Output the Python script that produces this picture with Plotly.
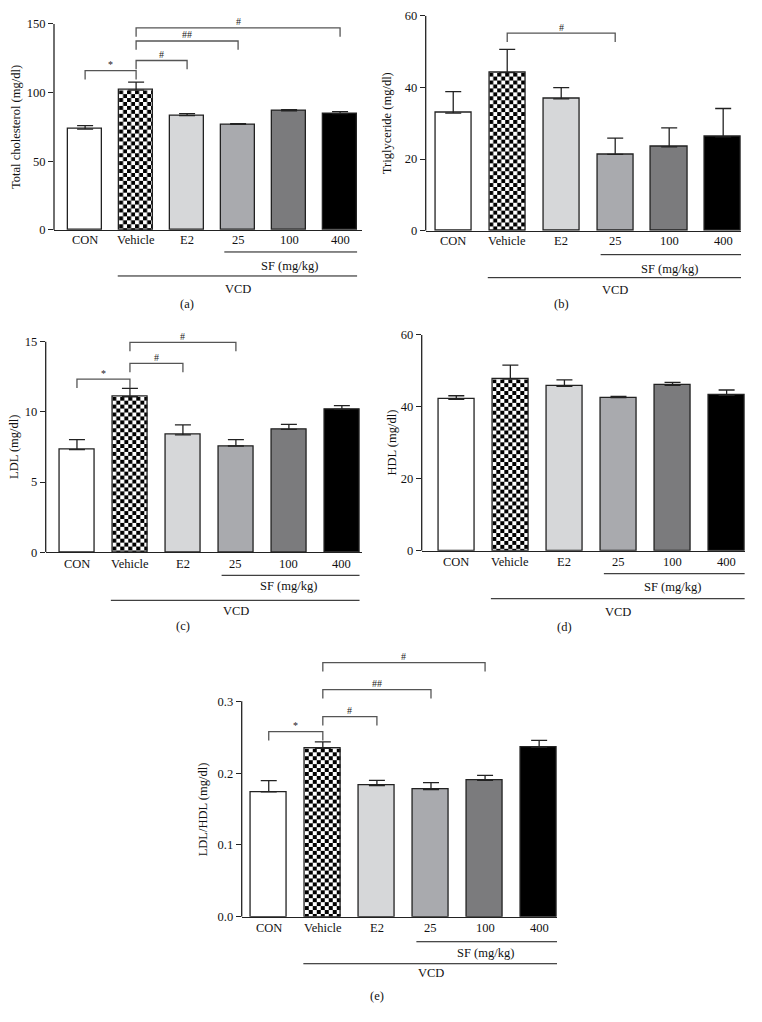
import base64
import plotly.graph_objects as go

# the page body keeps its 8px margin, so the figure is sized to fit inside it
OFF = 8
FIG_W, FIG_H = 762 - 2 * OFF, 1022 - 2 * OFF
# vertical correction measured on the photographed page
V_SHIFT, V_SCALE = 7.15, 0.986

groups = ["CON", "Vehicle", "E2", "25", "100", "400"]
bar_colors = ["#ffffff", "rgba(0,0,0,0)", "#d6d7d9", "#a9aaae", "#7b7b7d", "#000000"]

# (a) total cholesterol
tc_mean = [73.5, 101.8, 83.3, 76.9, 86.7, 84.7]
tc_sem = [2.5, 5.8, 1.4, 0.5, 1.0, 1.5]
tc_sig = [(0, 1, 116, "*"), (1, 2, 123.4, "#"), (1, 3, 137.6, "##"), (1, 5, 147.2, "#")]

# (b) triglyceride
tg_mean = [32.8, 44.1, 36.8, 21.3, 23.4, 26.2]
tg_sem = [6.0, 6.5, 3.1, 4.5, 5.3, 7.9]
tg_sig = [(1, 3, 55.1, "#")]

# (c) LDL
ldl_mean = [7.31, 11.08, 8.36, 7.57, 8.76, 10.18]
ldl_sem = [0.71, 0.6, 0.71, 0.45, 0.35, 0.26]
ldl_sig = [(0, 1, 12.34, "*"), (1, 2, 13.46, "#"), (1, 3, 14.95, "#")]

# (d) HDL
hdl_mean = [42.1, 47.7, 45.7, 42.6, 46.0, 43.2]
hdl_sem = [1.0, 3.9, 1.8, 0.3, 0.8, 1.5]
hdl_sig = []

# (e) LDL/HDL
ratio_mean = [0.174, 0.2345, 0.1825, 0.177, 0.19, 0.236]
ratio_sem = [0.0155, 0.009, 0.0075, 0.0097, 0.007, 0.0097]
ratio_sig = [(0, 1, 0.2578, "*"), (1, 2, 0.2787, "#"), (1, 3, 0.3163, "##"), (1, 4, 0.3539, "#")]

# pixel layout of each panel: axis left/right, y of zero, y of top tick
panels = [
    dict(mean=tc_mean, sem=tc_sem, sig=tc_sig, title="Total cholesterol (mg/dl)", letter="(a)",
         left=54, right=362, xr=[-0.61, 5.43], y0=230, ytop=24, tmax=150, dtick=50, ymax=156, title_x=16,
         below=[10, 22, 36, 46, 59, 74]),
    dict(mean=tg_mean, sem=tg_sem, sig=tg_sig, title="Triglyceride (mg/dl)", letter="(b)",
         left=425.7, right=741, xr=[-0.51, 5.33], y0=230.7, ytop=15.7, tmax=60, dtick=20, ymax=60, title_x=387,
         below=[10, 24, 38, 47, 59, 73]),
    dict(mean=ldl_mean, sem=ldl_sem, sig=ldl_sig, title="LDL (mg/dl)", letter="(c)",
         left=45.7, right=362, xr=[-0.59, 5.38], y0=552.3, ytop=341.7, tmax=15, dtick=5, ymax=15.3, title_x=14,
         below=[12, 23, 34, 48, 59, 74]),
    dict(mean=hdl_mean, sem=hdl_sem, sig=hdl_sig, title="HDL (mg/dl)", letter="(d)",
         left=421.7, right=745, xr=[-0.64, 5.34], y0=550.7, ytop=335, tmax=60, dtick=20, ymax=60, title_x=391.7,
         below=[11, 23, 36, 48, 61, 76]),
    dict(mean=ratio_mean, sem=ratio_sem, sig=ratio_sig, title="LDL/HDL (mg/dl)", letter="(e)",
         left=241.7, right=557, xr=[-0.5, 5.33], y0=916.7, ytop=701.3, tmax=0.3, dtick=0.1, ymax=0.36, title_x=203.3,
         below=[11, 25, 36, 47, 56, 79], fmt=".1f"),
]

BW = 0.667
INK = "#222222"
TXT = "#111111"
FONT = "Liberation Serif"
FS = 12.5


def px(pix):
    return (pix - OFF) / FIG_W


def page_y(pix):
    return (pix - V_SHIFT) / V_SCALE


def py(pix):
    return 1 - (page_y(pix) - OFF) / FIG_H


def checker_uri(w, h, sq=4):
    svg = (
        f"<svg xmlns='http://www.w3.org/2000/svg' width='{w:.1f}' height='{h:.1f}' "
        f"viewBox='0 0 {w:.1f} {h:.1f}' preserveAspectRatio='none'>"
        f"<defs><pattern id='c' width='{2*sq}' height='{2*sq}' patternUnits='userSpaceOnUse'>"
        f"<rect width='{2*sq}' height='{2*sq}' fill='white'/>"
        f"<rect width='{sq}' height='{sq}' fill='black'/>"
        f"<rect x='{sq}' y='{sq}' width='{sq}' height='{sq}' fill='black'/>"
        f"</pattern></defs><rect width='{w:.1f}' height='{h:.1f}' fill='url(#c)'/></svg>"
    )
    return "data:image/svg+xml;base64," + base64.b64encode(svg.encode()).decode()


def text(x, y, s, xref, yref, size=FS, color=TXT, **kw):
    return dict(x=x, y=y, xref=xref, yref=yref, text=s, showarrow=False,
                xanchor="center", yanchor=kw.pop("yanchor", "middle"),
                font=dict(family=FONT, size=size, color=color), **kw)


fig = go.Figure()
shapes, annotations, images = [], [], []

for k, p in enumerate(panels):
    n = "" if k == 0 else str(k + 1)
    xa, ya = "x" + n, "y" + n
    ppu = (page_y(p["y0"]) - page_y(p["ytop"])) / p["tmax"]
    spacing = (p["right"] - p["left"]) / (p["xr"][1] - p["xr"][0])
    top_px = p["y0"] - p["ymax"] * (p["y0"] - p["ytop"]) / p["tmax"]
    lab_off, sf_line, sf_txt, vcd_line, vcd_txt, let_txt = p["below"]

    fig.add_trace(go.Bar(
        x=list(range(len(groups))), y=p["mean"], width=BW,
        marker=dict(color=bar_colors, line=dict(color=INK, width=1.3)),
        error_y=dict(type="data", array=p["sem"], arrayminus=[0] * len(groups), symmetric=False,
                     color=INK, thickness=1.3, width=8),
        xaxis=xa, yaxis=ya, showlegend=False,
    ))

    fig.layout["xaxis" + n] = dict(
        domain=[px(p["left"]), px(p["right"])], range=p["xr"], anchor=ya,
        showticklabels=False, ticks="",
        showline=True, linecolor=INK, linewidth=1.3, showgrid=False, zeroline=False, fixedrange=True,
    )
    fig.layout["yaxis" + n] = dict(
        domain=[py(p["y0"]), min(1.0, py(top_px))], range=[0, p["ymax"]], anchor=xa,
        tick0=0, dtick=p["dtick"], tickformat=p.get("fmt", ""), ticks="outside", ticklen=5,
        tickwidth=1.3, tickcolor=INK, showline=False, showgrid=False, zeroline=False,
        tickfont=dict(family=FONT, size=FS, color=TXT), fixedrange=True,
    )

    # y axis line only up to the top tick
    shapes.append(dict(type="line", xref=xa + " domain", yref=ya, x0=0, x1=0, y0=0, y1=p["tmax"],
                       line=dict(color=INK, width=1.3)))

    # checkerboard fill for the vehicle bar
    v = p["mean"][1]
    images.append(dict(source=checker_uri(BW * spacing, v * ppu), xref=xa, yref=ya,
                       x=1 - BW / 2, y=v, sizex=BW, sizey=v, xanchor="left", yanchor="top",
                       sizing="stretch", layer="below"))

    # significance brackets
    drop = 9 / ppu
    for i, j, yb, lab in p["sig"]:
        shapes.append(dict(type="path", xref=xa, yref=ya,
                           path=f"M {i} {yb - drop} L {i} {yb} L {j} {yb} L {j} {yb - drop}",
                           line=dict(color="#555", width=1.3)))
        annotations.append(text((i + j) / 2, yb, lab, xa, ya, size=10, color="#222", yshift=6))

    # category labels, group lines and labels under the axis
    y0 = p["y0"]
    for i, g in enumerate(groups):
        annotations.append(text(i, py(y0 + lab_off), g, xa, "paper"))
    shapes.append(dict(type="line", xref=xa, yref="paper", x0=3 - 0.27, x1=5 + BW / 2,
                       y0=py(y0 + sf_line), y1=py(y0 + sf_line), line=dict(color="#111", width=1)))
    shapes.append(dict(type="line", xref=xa, yref="paper", x0=1 - 0.36, x1=5 + BW / 2,
                       y0=py(y0 + vcd_line), y1=py(y0 + vcd_line), line=dict(color="#111", width=1)))
    annotations.append(text(4, py(y0 + sf_txt), "SF (mg/kg)", xa, "paper"))
    annotations.append(text(3, py(y0 + vcd_txt), "VCD", xa, "paper"))
    annotations.append(text(2, py(y0 + let_txt), p["letter"], xa, "paper"))

    # y axis title
    annotations.append(text(px(p["title_x"]), p["tmax"] / 2, p["title"], "paper", ya, textangle=-90))

fig.update_layout(
    width=FIG_W, height=FIG_H, margin=dict(l=0, r=0, t=0, b=0),
    paper_bgcolor="white", plot_bgcolor="white",
    shapes=shapes, annotations=annotations, images=images,
    bargap=0,
)

fig.write_html("out.html")
